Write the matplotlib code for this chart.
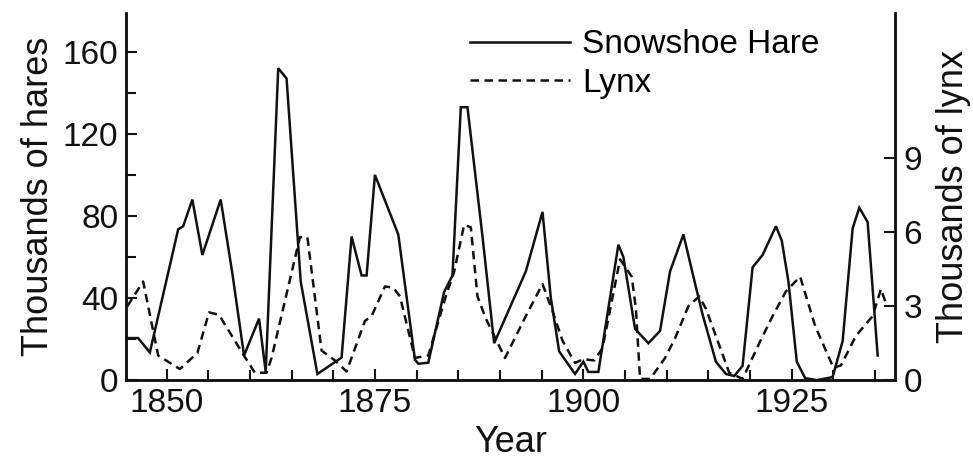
import matplotlib
matplotlib.use('Agg')
import matplotlib.pyplot as plt
from matplotlib.ticker import MultipleLocator

plt.rcParams['font.family'] = ['Liberation Sans', 'DejaVu Sans']

# snowshoe hare, thousands (vertices)
hare_years = [1845.3, 1846.6, 1848.0, 1851.4, 1852.0, 1853.1, 1854.3, 1856.5, 1857.9,
              1859.3, 1861.1, 1861.9, 1863.4, 1864.4, 1866.1, 1868.1, 1871.0, 1872.2,
              1873.4, 1874.0, 1875.0, 1877.8, 1879.8, 1880.2, 1881.4, 1883.3, 1884.3,
              1885.3, 1886.1, 1887.9, 1889.3, 1893.1, 1895.1, 1896.1, 1897.1, 1899.0,
              1900.0, 1900.6, 1901.8, 1904.2, 1904.8, 1906.2, 1907.8, 1909.2, 1910.4,
              1912.0, 1913.4, 1914.3, 1915.9, 1917.1, 1918.1, 1919.1, 1920.3, 1921.5,
              1923.1, 1923.8, 1924.6, 1925.6, 1926.6, 1928.0, 1929.9, 1931.1, 1932.3,
              1933.1, 1934.1, 1935.3]
hare = [20.5, 20.5, 13.5, 73.5, 75, 88, 61, 88, 52,
        12, 30, 4, 152, 147, 48, 3, 11, 70,
        51, 51, 100, 71, 10, 8, 8.5, 43, 51,
        133, 133, 70, 18, 53, 82, 40, 14, 3,
        9, 4, 4, 66, 60, 25, 18, 24, 53,
        71, 47, 32, 9, 3, 2, 7, 55, 61,
        75, 68, 48, 9, 1, 0, 1.5, 19, 74,
        84, 77, 12]

# lynx, thousands
lynx_years = [1845.3, 1847.2, 1849.0, 1851.6, 1853.7, 1855.1, 1856.3, 1859.1, 1860.6,
              1862.0, 1862.6, 1866.0, 1866.9, 1868.6, 1870.2, 1871.6, 1873.8, 1874.6,
              1876.2, 1877.2, 1878.0, 1879.8, 1881.4, 1883.5, 1884.5, 1885.7, 1886.5,
              1887.3, 1888.3, 1890.6, 1893.1, 1895.1, 1896.3, 1897.5, 1899.0, 1900.0,
              1901.3, 1902.3, 1904.4, 1905.8, 1906.3, 1906.8, 1908.0, 1909.8, 1911.0,
              1912.6, 1913.9, 1914.7, 1917.5, 1919.1, 1921.1, 1922.7, 1924.3, 1926.0,
              1927.8, 1930.0, 1930.9, 1932.7, 1934.7, 1935.7, 1936.3]
lynx = [3.0, 4.0, 1.0, 0.45, 1.1, 2.75, 2.65, 1.1, 0.3,
        0.3, 0.9, 5.8, 5.8, 1.2, 0.8, 0.35, 2.4, 2.6,
        3.8, 3.75, 3.4, 0.9, 1.0, 3.4, 4.4, 6.3, 6.2,
        3.4, 2.5, 0.9, 2.6, 3.9, 2.8, 1.6, 0.7, 0.85,
        0.8, 1.3, 4.9, 4.2, 2.9, 0.05, 0.05, 0.9, 1.7,
        3.0, 3.4, 2.9, 0.3, 0.05, 1.5, 2.6, 3.6, 4.2,
        2.2, 0.5, 0.6, 1.8, 2.6, 3.7, 3.1]

year_ticks = [1850, 1875, 1900, 1925]
hare_ticks = [0, 40, 80, 120, 160]
lynx_ticks = [0, 3, 6, 9]

ink = '#111111'

fig = plt.figure(figsize=(9.73, 4.74), dpi=100)
ax1 = fig.add_axes([0.130, 0.198, 0.790, 0.775])
ax2 = ax1.twinx()

h_line, = ax1.plot(hare_years, hare, color=ink, lw=1.8, solid_joinstyle='miter')
l_line, = ax2.plot(lynx_years, lynx, color=ink, lw=1.8, linestyle=(0, (3.4, 2.2)))

ax1.set_xlim(1845.2, 1937.4)
ax1.set_ylim(0, 179)
ax2.set_ylim(0, 14.9)

ax1.set_xticks(year_ticks)
ax1.xaxis.set_minor_locator(MultipleLocator(5))
ax1.set_yticks(hare_ticks)
ax1.yaxis.set_minor_locator(MultipleLocator(20))
ax2.set_yticks(lynx_ticks)

for ax in (ax1, ax2):
    ax.spines['top'].set_visible(False)
    for s in ax.spines.values():
        s.set_linewidth(1.8)
        s.set_color(ink)
    ax.tick_params(which='both', direction='in', width=1.5, colors=ink,
                   labelsize=24, pad=6)
    ax.tick_params(which='major', length=8)
    ax.tick_params(which='minor', length=7)

ax1.set_xlabel('Year', fontsize=26, color=ink, labelpad=4)
ax1.set_ylabel('Thousands of hares', fontsize=26, color=ink, labelpad=5)
ax2.set_ylabel('Thousands of lynx', fontsize=26, color=ink, labelpad=10)

ax1.legend([h_line, l_line], ['Snowshoe Hare', 'Lynx'], loc='upper left',
           bbox_to_anchor=(0.447, 0.955), frameon=False, fontsize=24,
           handlelength=3.0, handletextpad=0.35, labelspacing=0.22,
           borderpad=0, borderaxespad=0)

fig.savefig('out.png', dpi=100)
